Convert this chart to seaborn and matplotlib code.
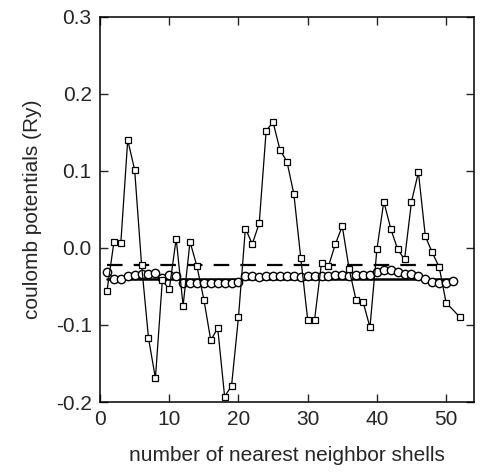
import matplotlib
matplotlib.use("Agg")
import matplotlib.pyplot as plt
import seaborn as sns
import pandas as pd

# --- data -------------------------------------------------------------
square_x = list(range(1, 51)) + [52]
square_y = [-0.056, 0.007, 0.006, 0.140, 0.101, -0.022, -0.117, -0.169, -0.042, -0.054,
            0.012, -0.075, 0.008, -0.024, -0.067, -0.120, -0.104, -0.193, -0.179, -0.090,
            0.025, 0.005, 0.032, 0.152, 0.163, 0.127, 0.112, 0.070, -0.013, -0.093,
            -0.093, -0.019, -0.024, 0.005, 0.028, -0.028, -0.068, -0.070, -0.103, -0.002,
            0.060, 0.025, -0.002, -0.015, 0.060, 0.098, 0.015, -0.006, -0.025, -0.071,
            -0.090]

circle_x = list(range(1, 52))
circle_y = [-0.031, -0.040, -0.040, -0.037, -0.035, -0.034, -0.034, -0.032, -0.039, -0.035,
            -0.036, -0.045, -0.046, -0.046, -0.046, -0.046, -0.045, -0.046, -0.045, -0.044,
            -0.036, -0.037, -0.038, -0.037, -0.036, -0.037, -0.036, -0.037, -0.038, -0.037,
            -0.037, -0.036, -0.036, -0.035, -0.035, -0.036, -0.035, -0.035, -0.035, -0.031,
            -0.029, -0.029, -0.031, -0.034, -0.034, -0.037, -0.041, -0.044, -0.046, -0.045,
            -0.043]

ref_x = [1, 51]
solid_level = [-0.040, -0.040]
dashed_level = [-0.022, -0.022]

y_ticks = [-0.2, -0.1, 0.0, 0.1, 0.2, 0.3]
x_ticks = [0, 10, 20, 30, 40, 50]

# --- style ------------------------------------------------------------
sns.set_style("ticks")
plt.rcParams["font.family"] = ["Liberation Sans", "DejaVu Sans"]
plt.rcParams["axes.unicode_minus"] = False

fig = plt.figure(figsize=(4.81, 4.73), dpi=100)
ax = fig.add_axes([0.208, 0.150, 0.777, 0.815])

sq = pd.DataFrame({"x": square_x, "y": square_y})
ci = pd.DataFrame({"x": circle_x, "y": circle_y})

sns.lineplot(x=ref_x, y=dashed_level, ax=ax, color="black", lw=1.6,
             dashes=False, linestyle=(0, (7, 5)), zorder=2)
sns.lineplot(x=ref_x, y=solid_level, ax=ax, color="black", lw=1.8, zorder=2)
sns.lineplot(data=ci, x="x", y="y", ax=ax, color="black", lw=0.8,
             marker="o", markersize=6, markerfacecolor="white",
             markeredgecolor="black", markeredgewidth=1.0, zorder=3)
sns.lineplot(data=sq, x="x", y="y", ax=ax, color="black", lw=0.9,
             marker="s", markersize=5, markerfacecolor="white",
             markeredgecolor="black", markeredgewidth=0.9, zorder=4)

ax.set_xlim(0, 54)
ax.set_ylim(-0.2, 0.3)
ax.set_xticks(x_ticks)
ax.set_yticks(y_ticks)
ax.set_yticklabels([f"{v:.1f}" for v in y_ticks])
ax.tick_params(direction="in", length=6, width=1, labelsize=15, pad=6,
               top=True, right=True, labeltop=False, labelright=False)
for s in ax.spines.values():
    s.set_linewidth(1.1)
    s.set_color("black")

ax.set_xlabel("number of nearest neighbor shells", fontsize=15, labelpad=12)
ax.set_ylabel("coulomb potentials (Ry)", fontsize=15, labelpad=10)

fig.savefig("out.png", dpi=100)
